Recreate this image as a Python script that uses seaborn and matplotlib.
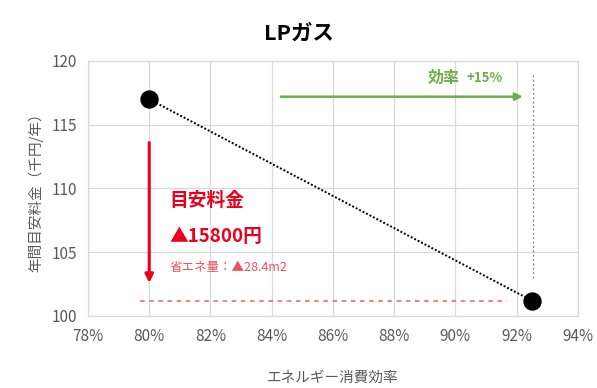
import matplotlib
matplotlib.use("Agg")
import matplotlib.pyplot as plt
import seaborn as sns
import pandas as pd
from matplotlib.ticker import PercentFormatter

# Energy efficiency vs. annual running cost (thousand yen / year)
efficiency = [0.80, 0.925]
annual_cost = [117.0, 101.2]
x_ticks = [0.78, 0.80, 0.82, 0.84, 0.86, 0.88, 0.90, 0.92, 0.94]
y_ticks = [100, 105, 110, 115, 120]

saving_yen = round((annual_cost[0] - annual_cost[1]) * 1000)
gas_saving = "28.4m2"
eff_gain = "+15%"

sns.set_theme(style="whitegrid")
plt.rcParams["font.family"] = ["Noto Sans CJK JP", "DejaVu Sans"]

df = pd.DataFrame({"eff": efficiency, "cost": annual_cost})

fig = plt.figure(figsize=(5.97, 3.88), dpi=100)
ax = fig.add_axes([0.1474, 0.1856, 0.8206, 0.6572])

sns.lineplot(data=df, x="eff", y="cost", ax=ax, color="black",
             linestyle=(0, (1, 1)), linewidth=1.4)
sns.scatterplot(data=df, x="eff", y="cost", ax=ax, color="black",
                s=150, edgecolor="black", zorder=5, legend=False)

ax.set_xlim(x_ticks[0], x_ticks[-1])
ax.set_ylim(y_ticks[0], y_ticks[-1])
ax.set_xticks(x_ticks)
ax.set_yticks(y_ticks)
ax.xaxis.set_major_formatter(PercentFormatter(1.0, decimals=0))

ax.grid(True, color="#d9d9d9", linewidth=0.9)
for s in ax.spines.values():
    s.set_color("#d9d9d9")
    s.set_linewidth(0.9)
ax.tick_params(axis="x", colors="#595959", labelsize=11, length=0, pad=9)
ax.tick_params(axis="y", colors="#595959", labelsize=11, length=0, pad=8)

ax.set_xlabel("エネルギー消費効率", color="#595959", fontsize=10.5, labelpad=18)
ax.set_ylabel("年間目安料金（千円/年）", color="#595959", fontsize=10.5, labelpad=6)

fig.text(0.5, 0.915, "LPガス", ha="center", va="center",
         fontsize=15.5, fontweight="bold", color="black")

red = "#e8001c"
# cost reduction arrow at the starting efficiency
ax.annotate("", xy=(efficiency[0], 102.6), xytext=(efficiency[0], 113.6),
            arrowprops=dict(arrowstyle="-|>", color=red, lw=2.2,
                            mutation_scale=12, shrinkA=0, shrinkB=0))
# red dashed reference at the improved cost
ax.plot([0.797, 0.917], [annual_cost[1], annual_cost[1]], color="#f0605f",
        linestyle=(0, (3, 3)), linewidth=1.1)
# grey dotted marker at the improved efficiency
ax.plot([efficiency[1] + 0.0005] * 2, [103.0, 119.0], color="#808080",
        linestyle=(0, (1.5, 2)), linewidth=0.9)
# green efficiency arrow
green = "#70ad47"
ax.annotate("", xy=(0.922, 117.2), xytext=(0.843, 117.2),
            arrowprops=dict(arrowstyle="-|>", color=green, lw=1.8,
                            mutation_scale=11, shrinkA=0, shrinkB=0))
ax.text(0.9015, 118.7, "効率", color=green, fontsize=11.5, fontweight="bold",
        ha="right", va="center")
ax.text(0.9035, 118.7, eff_gain, color=green, fontsize=9.5, fontweight="bold",
        ha="left", va="center")

ax.text(0.8065, 109.1, "目安料金", color=red, fontsize=13.5, fontweight="bold",
        va="center", ha="left")
ax.text(0.8065, 106.2, f"▲{saving_yen}円", color=red, fontsize=13.5,
        fontweight="bold", va="center", ha="left")
ax.text(0.8065, 103.8, f"省エネ量：▲{gas_saving}", color="#f0505a", fontsize=9,
        va="center", ha="left")

fig.savefig("out.png", dpi=100)
